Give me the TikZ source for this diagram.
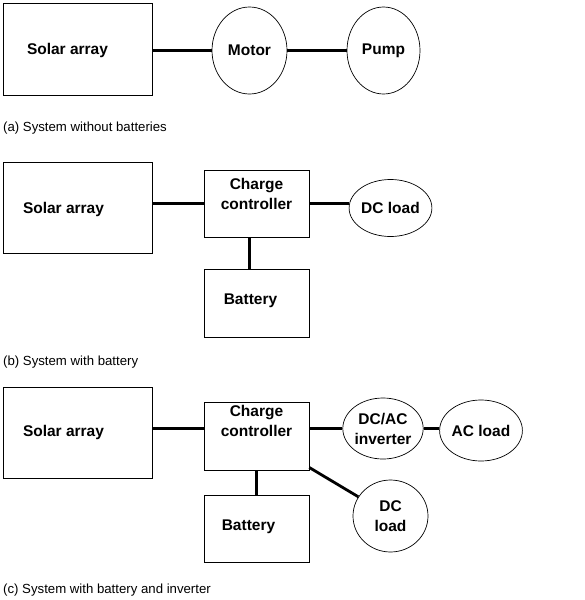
\documentclass[tikz,border=0pt]{standalone}
\usepackage{fontspec}
\setmainfont{Liberation Sans}
\usetikzlibrary{shapes.geometric}

\tikzset{
  blk/.style={draw, line width=0.8pt, inner sep=0pt},
  oval/.style={draw, ellipse, line width=0.7pt, inner sep=0pt, align=center,
    font=\bfseries\fontsize{15.5}{20}\selectfont},
  inlbl/.style={align=center, font=\bfseries\fontsize{15.5}{20}\selectfont},
  wire/.style={line width=2.8pt},
  caption/.style={anchor=west, inner sep=0pt, font=\fontsize{13.2}{15}\selectfont}
}

\begin{document}
\begin{tikzpicture}[x=1pt, y=-1pt]
  \useasboundingbox (0,0) rectangle (584,600);

  % (a) without batteries
  \node[blk, minimum width=149pt, minimum height=92pt,
        label={[inlbl, xshift=-10pt, yshift=-1.5pt]center:Solar array}] (sa1) at (77.5,49) {};
  \node[oval, minimum width=75pt, minimum height=87pt] (mot1) at (249.5,50.5) {Motor};
  \node[oval, minimum width=73pt, minimum height=87pt] (pmp1) at (383.5,50.5) {Pump};
  \draw[wire] (sa1.east |- mot1.west) -- (mot1.west);
  \draw[wire] (mot1.east) -- (pmp1.west);
  \node[caption] (cap1) at (3,128) {(a) System without batteries};

  % (b) with battery
  \node[blk, minimum width=149pt, minimum height=91pt,
        label={[inlbl, xshift=-14pt, yshift=-1.5pt]center:Solar array}] (sa2) at (77.5,207.5) {};
  \node[blk, minimum width=105pt, minimum height=67pt,
        label={[inlbl, yshift=10pt]center:Charge\\controller}] (cc2) at (256.5,203.5) {};
  \node[oval, minimum width=75pt, minimum height=57pt] (dc2) at (390.5,208) {DC load};
  \node[blk, minimum width=105pt, minimum height=68pt,
        label={[inlbl, xshift=-6pt, yshift=2pt]center:Battery}] (bat2) at (256.5,303) {};
  \draw[wire] (sa2.east |- cc2.west) -- (cc2.west);
  \draw[wire] (cc2.east) -- (cc2.east -| dc2.west);
  \draw[wire] ([xshift=-7pt]cc2.south) -- ([xshift=-7pt]bat2.north);
  \node[caption] (cap2) at (3,362) {(b) System with battery};

  % (c) with battery and inverter
  \node[blk, minimum width=149pt, minimum height=91pt,
        label={[inlbl, xshift=-14pt]center:Solar array}] (sa3) at (77.5,432.5) {};
  \node[blk, minimum width=105pt, minimum height=68pt,
        label={[inlbl, yshift=15pt]center:Charge\\controller}] (cc3) at (256.5,436) {};
  \node[oval, minimum width=76pt, minimum height=61pt] (inv3) at (383,428.5) {DC/AC\\inverter};
  \node[oval, minimum width=74pt, minimum height=61pt] (ac3) at (481,430.5) {AC load};
  \node[oval, minimum width=75pt, minimum height=72pt] (dc3) at (390.5,516) {DC\\load};
  \node[blk, minimum width=105pt, minimum height=67pt,
        label={[inlbl, xshift=-8pt, yshift=2pt]center:Battery}] (bat3) at (256.5,528.5) {};
  \draw[wire] (sa3.east |- inv3.west) -- (cc3.west |- inv3.west);
  \draw[wire] (cc3.east |- inv3.west) -- (inv3.west);
  \draw[wire] (inv3.east) -- (inv3.east -| ac3.west);
  \draw[wire] (cc3) -- (dc3);
  \draw[wire] (cc3.south) -- (bat3.north);
  \node[caption] (cap3) at (3,590) {(c) System with battery and inverter};
\end{tikzpicture}
\end{document}
